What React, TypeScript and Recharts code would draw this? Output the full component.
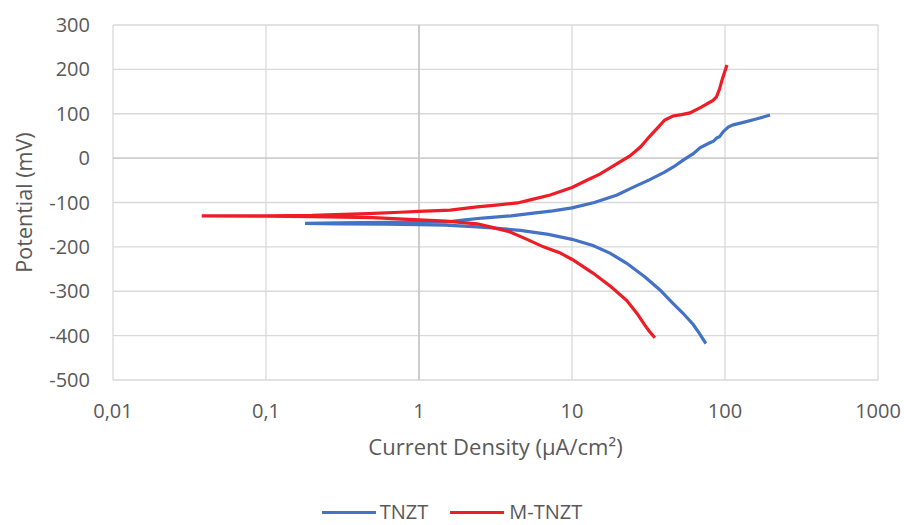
import { CartesianGrid, Line, LineChart, ReferenceLine, XAxis, YAxis } from 'recharts';

// TNZT: cathodic branch (from end back to Ecorr), then anodic branch
const tnztCurrent = [
  75, 68, 62, 53, 45, 37.6, 30, 22.8, 17.7, 13.7, 10, 7, 4.6, 3, 2.4, 1.5, 1, 0.6, 0.3, 0.18,
  0.3, 0.6, 1, 1.6, 2, 2.6, 4, 5.6, 7.5, 10, 14, 19.7, 25, 32, 40, 46, 53, 62, 69, 79, 84, 88,
  92, 97, 105, 113, 130, 160, 197,
];
const tnztPotential = [
  -418, -395, -375, -349, -325, -297, -268, -237, -214, -197, -183, -172, -163, -157, -155,
  -151, -150, -149, -148, -147,
  -146, -145, -144, -143, -139, -135, -130, -124, -119, -112, -100, -83, -66, -49, -32, -20,
  -5, 10, 24, 34, 38, 45, 48, 59, 70, 75, 80, 88, 97,
];

// M-TNZT
const mtnztCurrent = [
  34.8, 32, 30, 26.6, 22.8, 18, 13.7, 10.1, 8.3, 6.5, 5, 3.9, 3, 2.4, 1.5, 1, 0.5, 0.2, 0.1,
  0.038,
  0.1, 0.2, 0.46, 0.75, 1, 1.6, 2.4, 3.2, 4.4, 5.5, 7.2, 10, 12.5, 15.2, 19, 23.9, 28, 32, 36,
  40.4, 45.7, 52, 59, 70, 83.5, 88, 92, 96, 103,
];
const mtnztPotential = [
  -405, -390, -377, -350, -321, -290, -259, -229, -213, -200, -182, -166, -156, -148, -142,
  -139, -134, -132, -131, -130,
  -130, -129, -125, -122, -120, -117, -110, -106, -101, -93, -83, -66, -50, -36, -16, 5, 25,
  48, 67, 86, 95, 98, 102, 115, 130, 138, 155, 178, 210,
];

const xTicks = [0.01, 0.1, 1, 10, 100, 1000];
const yTicks = [-500, -400, -300, -200, -100, 0, 100, 200, 300];

const toPoints = (xs: number[], ys: number[]) => xs.map((x, i) => ({ x, y: ys[i] }));

const TEXT = '#595959';
const BLUE = '#4472C4';
const RED = '#EE1C25';
const FONT = '"Open Sans", sans-serif';

export default function App() {
  const tnzt = toPoints(tnztCurrent, tnztPotential);
  const mtnzt = toPoints(mtnztCurrent, mtnztPotential);

  return (
    <div style={{ position: 'absolute', left: 0, top: 0, width: 904, height: 525, background: '#fff', fontFamily: FONT, overflow: 'hidden' }}>
      <LineChart width={904} height={525} margin={{ top: 25, right: 26, bottom: 65, left: 0 }}>
        <CartesianGrid stroke="#d9d9d9" strokeWidth={1.3} />
        <XAxis
          type="number"
          dataKey="x"
          scale="log"
          domain={[0.01, 1000]}
          ticks={xTicks}
          allowDataOverflow
          height={80}
          axisLine={false}
          tickLine={false}
          tickSize={0}
          tickMargin={24}
          tick={{ fill: TEXT, fontSize: 20, fontFamily: FONT }}
          tickFormatter={(v: number) => String(v).replace('.', ',')}
          label={{ value: 'Current Density (µA/cm²)', position: 'insideBottom', offset: 5, fill: TEXT, fontSize: 22, fontFamily: FONT }}
        />
        <YAxis
          type="number"
          dataKey="y"
          domain={[-500, 300]}
          ticks={yTicks}
          width={113}
          axisLine={false}
          tickLine={false}
          tickSize={0}
          tickMargin={23}
          tick={{ fill: TEXT, fontSize: 20, fontFamily: FONT }}
          label={{ value: 'Potential (mV)', angle: -90, position: 'insideLeft', offset: 24, fill: TEXT, fontSize: 21.5, fontFamily: FONT, style: { textAnchor: 'middle' } }}
        />
        <ReferenceLine x={1} stroke="#bfbfbf" strokeWidth={1.3} />
        <ReferenceLine y={0} stroke="#c8c8c8" strokeWidth={1.3} />
        <Line data={tnzt} dataKey="y" name="TNZT" stroke={BLUE} strokeWidth={3.2} dot={false} isAnimationActive={false} />
        <Line data={mtnzt} dataKey="y" name="M-TNZT" stroke={RED} strokeWidth={3.2} dot={false} isAnimationActive={false} />
      </LineChart>
      <div style={{ position: 'absolute', top: 500, left: 0, width: 904, display: 'flex', justifyContent: 'center', alignItems: 'center', fontSize: 20, color: TEXT, lineHeight: '24px' }}>
        <span style={{ display: 'inline-block', width: 54, height: 3, background: BLUE, marginRight: 4 }} />
        <span style={{ marginRight: 22 }}>TNZT</span>
        <span style={{ display: 'inline-block', width: 54, height: 3, background: RED, marginRight: 5 }} />
        <span>M-TNZT</span>
      </div>
    </div>
  );
}
